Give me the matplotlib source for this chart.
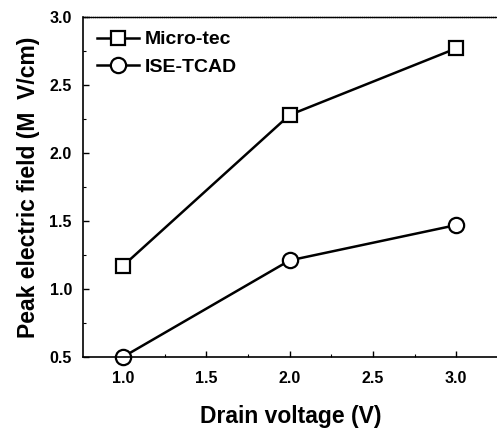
import matplotlib
matplotlib.use("Agg")
import matplotlib.pyplot as plt
from matplotlib import font_manager
from matplotlib.ticker import MultipleLocator

names = {f.name for f in font_manager.fontManager.ttflist}
fam = "Liberation Sans Narrow" if "Liberation Sans Narrow" in names else "Liberation Sans"
plt.rcParams['font.family'] = [fam, 'DejaVu Sans']
plt.rcParams['font.weight'] = 'bold'

voltage = [1.0, 2.0, 3.0]
micro_tec = [1.17, 2.28, 2.77]
ise_tcad = [0.50, 1.21, 1.47]

fig = plt.figure(figsize=(4.97, 4.28), dpi=100)
ax = fig.add_axes([0.167, 0.166, 0.838, 0.794])
ax.plot(voltage, micro_tec, '-s', color='black', lw=1.8, ms=10, mfc='white', mew=1.6, label='Micro-tec')
ax.plot(voltage, ise_tcad, '-o', color='black', lw=1.8, ms=11, mfc='white', mew=1.6, label='ISE-TCAD', clip_on=False)
ax.set_xlim(0.76, 3.26)
ax.set_ylim(0.5, 3.0)
ax.xaxis.set_major_locator(MultipleLocator(0.5))
ax.xaxis.set_minor_locator(MultipleLocator(0.25))
ax.yaxis.set_major_locator(MultipleLocator(0.5))
ax.yaxis.set_minor_locator(MultipleLocator(0.25))
ax.tick_params(which='both', direction='in', top=False, right=False, labelsize=11.5)
ax.tick_params(axis='x', which='major', pad=10)
ax.tick_params(axis='y', which='major', pad=8)
ax.tick_params(which='major', length=4, width=1)
ax.tick_params(which='minor', length=2, width=0.8)
ax.spines['top'].set_linestyle((0, (1, 0.5)))
ax.spines['top'].set_linewidth(1.0)
ax.spines['right'].set_visible(False)
ax.spines['left'].set_linewidth(1.2)
ax.spines['bottom'].set_linewidth(1.2)
ax.set_xlabel('Drain voltage (V)', fontsize=16.5, fontweight='bold', labelpad=14)
ax.set_ylabel('Peak electric field (M  V/cm)', fontsize=16.5, fontweight='bold', labelpad=7)
ax.legend(loc='upper left', frameon=False, fontsize=14, handlelength=2.2, handletextpad=0.3,
          borderaxespad=0.3, labelspacing=0.5)
fig.savefig('out.png', dpi=100)
